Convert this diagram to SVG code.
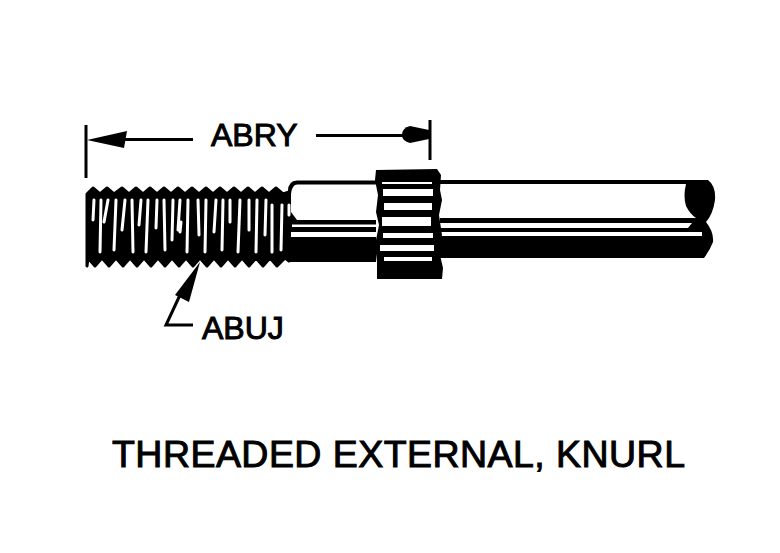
<svg xmlns="http://www.w3.org/2000/svg" width="780" height="553" viewBox="0 0 780 553">
<style>
text{font-family:"Liberation Sans",Arial,sans-serif;fill:#000;stroke:#000;stroke-width:1}
.l{fill:none;stroke:#000;stroke-width:3}
.w{fill:#fff;stroke:none}
.k{fill:#000;stroke:none}
.c{fill:#000;stroke:#000;stroke-width:3;stroke-linejoin:round}
.t{fill:none;stroke:#fff;stroke-width:3;stroke-linecap:round}
</style>
<rect width="780" height="553" fill="#fff"/>
<g id="shaft">
<path class="k" d="M288 191Q288 181 297 180.500L376 180.500V262H288Z"/>
<path class="w" d="M291 194Q292 184 298 184.500H376V220H297L291 212Z"/>
<path class="w" d="M292 224.500H376V227H292ZM291 232H376V237H291Z"/>
<path class="k" d="M440 180H708Q716 186 715 200Q713 214 706 222Q714 232 713 242Q710 250 704 258H440Z"/>
<path class="w" d="M440 184H686Q683 196 686 206Q690 214 696 218H440Z"/>
<path class="w" d="M440 223H692L688 228H440ZM440 232H702V236H440Z"/>
</g>
<g id="thread">
<path class="c" d="M87 194L93 188L100 194L107 188L114 194L122 188L129 194L136 188L143 194L150 188L157 194L164 188L171 194L178 188L185 194L192 188L199 194L206 188L213 194L220 188L227 194L234 188L241 194L248 188L255 194L262 188L269 194L276 188L283 194L289 192V261L285 258L277 266L270 258L263 266L256 258L249 266L242 258L235 266L228 258L221 266L214 258L207 266L200 258L193 266L186 258L179 266L172 258L165 266L158 258L151 266L144 258L137 266L130 258L123 266L116 258L109 266L102 258L95 266L88 258L87 266Z"/>
<path class="t" d="M94 200L93 220M101 200L100 252M108 200L104 222M116 200L114 250M125 200L122 230M132 200L133 252M141 200L139 225M148 200L146 252M157 200L156 228M164 200L165 250M173 200L172 240M180 200L178 230M181 222L180 232M188 200L187 252M198 200L199 235M206 200L205 252M216 200L214 232M223 200L222 250M230 200L230 222M240 200L238 252M249 200L249 230M257 200L256 252M266 200L265 235M272 205L272 252M282 205L281 250M289 205V215"/>
</g>
<g id="knurl">
<path class="k" d="M376 170L437 169L441 175L440 190L442 200L439 215L442 235L440 255L443 268L442 279H377V262L375 245L379 225L376 212L378 195L375 180Z"/>
<path class="w" d="M382 182H432V184H382ZM383 189H433V196H383ZM384 203H432V210H384ZM382 217H431V226H382ZM383 233H433V238H383ZM380 245H434V251H380ZM384 257H432V261H384Z"/>
</g>
<g id="connectors">
<path class="l" d="M86 125V178"/>
<path class="k" d="M87 140L127 131L124 148Z"/>
<path class="l" d="M120 139.500H193"/>
<path class="l" d="M316 135.500H405"/>
<path class="k" d="M429 130V139L410 143Q402 141 402 135Q402 128 410 126Z"/>
<path class="l" d="M430 120V160"/>
<path class="k" d="M200 262L189 302L175 295Z"/>
<path class="l" d="M180 295L166 325H193"/>
</g>
<g id="label-abry"><text x="211" y="146" font-size="32">ABRY</text></g>
<g id="label-abuj"><text x="202" y="339" font-size="32">ABUJ</text></g>
<g id="title"><text x="112" y="467" font-size="37.500" textLength="573" lengthAdjust="spacing">THREADED EXTERNAL, KNURL</text></g>
</svg>
